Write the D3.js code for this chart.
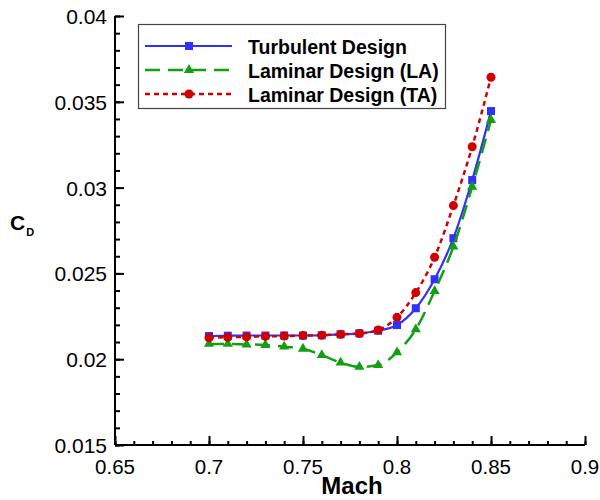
<!DOCTYPE html>
<html lang="en">
<head>
  <meta charset="UTF-8">
  <title>CD vs Mach</title>
  <script src="https://d3js.org/d3.v7.min.js"></script>
  <style>
    body { margin: 0; background: #fff; }
    text { font-family: "Liberation Sans", Arial, sans-serif; }
  </style>
</head>
<body>
  <script>
    // 1. Data
    const mach = [0.70, 0.71, 0.72, 0.73, 0.74, 0.75, 0.76, 0.77, 0.78, 0.79, 0.80, 0.81, 0.82, 0.83, 0.84, 0.85];
    const turbulent = [0.02135, 0.02137, 0.02138, 0.02138, 0.02138, 0.02138, 0.02139, 0.02145, 0.02151, 0.02166, 0.02199, 0.02297, 0.02466, 0.02705, 0.03044, 0.03446];
    const laminarLA = [0.02089, 0.02089, 0.02086, 0.02083, 0.02073, 0.02061, 0.02024, 0.01980, 0.01955, 0.01966, 0.02040, 0.02174, 0.02397, 0.02656, 0.03005, 0.03394];
    const laminarTA = [0.02125, 0.02128, 0.02130, 0.02133, 0.02135, 0.02138, 0.02140, 0.02145, 0.02150, 0.02170, 0.02244, 0.02388, 0.02594, 0.02895, 0.03238, 0.03643];
    const seriesNames = ["Turbulent Design", "Laminar Design (LA)", "Laminar Design (TA)"];
    const xTicks = [0.65, 0.7, 0.75, 0.8, 0.85, 0.9];
    const yTicks = [0.015, 0.02, 0.025, 0.03, 0.035, 0.04];

    const series = [
      { name: seriesNames[0], values: turbulent, color: "#3030ff", dash: null, marker: "square", width: 2.2 },
      { name: seriesNames[1], values: laminarLA, color: "#12a012", dash: "15,8", marker: "triangle", width: 2.5 },
      { name: seriesNames[2], values: laminarTA, color: "#d00000", dash: "5,4", marker: "circle", width: 2.5 }
    ];

    // 2. SVG
    const width = 600, height = 500;
    const svg = d3.select("body").append("svg")
      .attr("width", width)
      .attr("height", height);

    // 3. Scales
    const x = d3.scaleLinear().domain([0.65, 0.9]).range([115, 585]);
    const y = d3.scaleLinear().domain([0.015, 0.04]).range([445, 16]);

    // 4. Axes (ticks pointing inward)
    const xMinor = d3.range(65, 91).map(d => d / 100);
    const yMinor = d3.range(15, 41).map(d => d / 1000);

    const xAxis = svg.append("g").attr("transform", `translate(0,${y(0.015)})`);
    xAxis.call(d3.axisTop(x).tickValues(xMinor).tickSize(4).tickFormat(""));
    xAxis.append("g").call(d3.axisTop(x).tickValues(xTicks).tickSize(9).tickFormat(""));
    xAxis.selectAll("path.domain").attr("stroke-width", 2).attr("d", `M${x(0.65)},0H${x(0.9)}`);
    xAxis.selectAll("line").attr("stroke-width", 1.2);
    xAxis.selectAll("g g line").attr("stroke-width", 2);

    const yAxis = svg.append("g").attr("transform", `translate(${x(0.65)},0)`);
    yAxis.call(d3.axisRight(y).tickValues(yMinor).tickSize(5).tickFormat(""));
    yAxis.append("g").call(d3.axisRight(y).tickValues(yTicks).tickSize(9).tickFormat(""));
    yAxis.selectAll("path.domain").attr("stroke-width", 2).attr("d", `M0,${y(0.015)}V${y(0.04)}`);
    yAxis.selectAll("line").attr("stroke-width", 1.2);
    yAxis.selectAll("g g line").attr("stroke-width", 2);

    // tick labels
    svg.append("g").selectAll("text").data(xTicks).join("text")
      .attr("x", d => x(d)).attr("y", 474)
      .attr("text-anchor", "middle").attr("font-size", 20.5)
      .text(d => d3.format("")(d));
    svg.append("g").selectAll("text").data(yTicks).join("text")
      .attr("x", 107).attr("y", d => y(d) + 8)
      .attr("text-anchor", "end").attr("font-size", 21)
      .text(d => d3.format("")(+d.toFixed(3)));

    // axis titles
    svg.append("text").attr("x", 352).attr("y", 494)
      .attr("text-anchor", "middle").attr("font-size", 24).attr("font-weight", "bold")
      .text("Mach");
    const cd = svg.append("text").attr("x", 10).attr("y", 230)
      .attr("font-size", 21).attr("font-weight", "bold");
    cd.append("tspan").text("C");
    cd.append("tspan").attr("font-size", 11).attr("dy", 6).attr("dx", 1).text("D");

    // 5. Lines and markers
    const line = d3.line().curve(d3.curveMonotoneX)
      .x((d, i) => x(mach[i])).y(d => y(d));

    function drawMarker(g, type, cx, cy, color) {
      if (type === "square") {
        g.append("rect").attr("x", cx - 4).attr("y", cy - 4).attr("width", 8).attr("height", 8).attr("fill", color);
      } else if (type === "triangle") {
        g.append("path").attr("d", d3.symbol(d3.symbolTriangle, 45)()).attr("transform", `translate(${cx},${cy})`).attr("fill", color);
      } else {
        g.append("circle").attr("cx", cx).attr("cy", cy).attr("r", 4.5).attr("fill", color);
      }
    }

    const plot = svg.append("g");
    series.forEach(s => {
      plot.append("path").datum(s.values)
        .attr("fill", "none").attr("stroke", s.color)
        .attr("stroke-width", s.width)
        .attr("stroke-dasharray", s.dash)
        .attr("d", line);
      const mg = plot.append("g");
      s.values.forEach((v, i) => drawMarker(mg, s.marker, x(mach[i]), y(v), s.color));
    });

    // 6. Legend
    const legend = svg.append("g");
    legend.append("rect").attr("x", 138.5).attr("y", 24.5).attr("width", 307).attr("height", 84)
      .attr("fill", "#fff").attr("stroke", "#444").attr("stroke-width", 1.2);
    series.forEach((s, i) => {
      const ly = 46 + i * 24;
      legend.append("line").attr("x1", 145).attr("x2", 232).attr("y1", ly).attr("y2", ly)
        .attr("stroke", s.color).attr("stroke-width", s.width).attr("stroke-dasharray", s.dash);
      drawMarker(legend, s.marker, 189, ly, s.color);
      legend.append("text").attr("x", 248).attr("y", ly + 7.5)
        .attr("font-size", 19.5).attr("font-weight", "bold").text(s.name);
    });
  </script>
</body>
</html>
